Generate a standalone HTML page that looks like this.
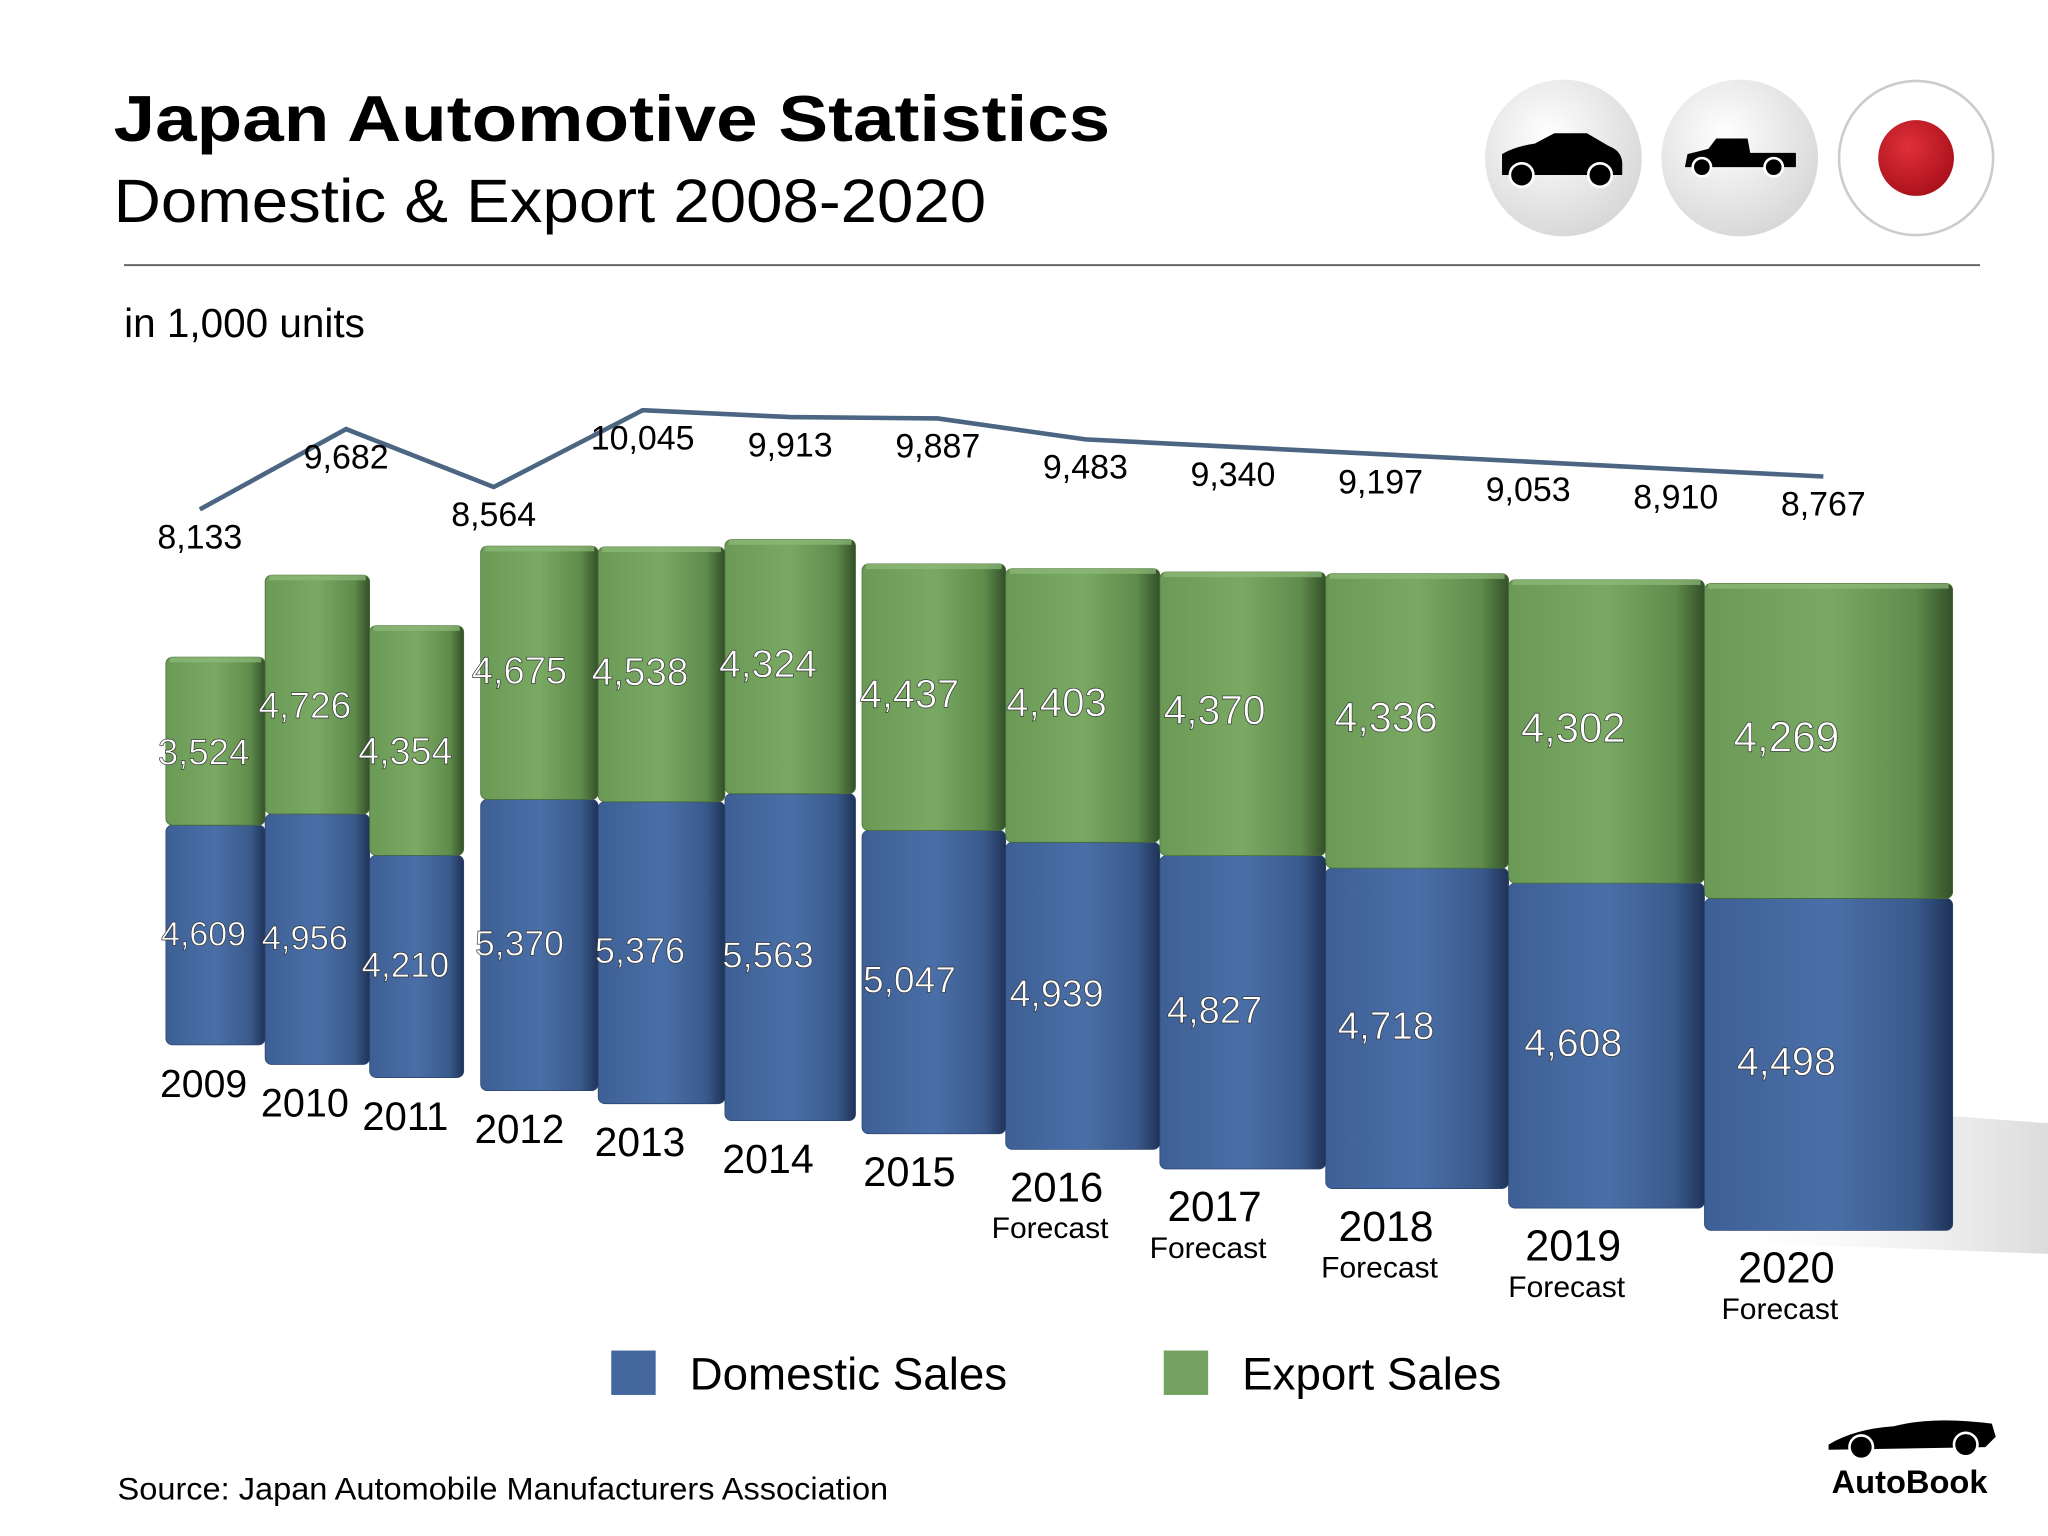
<!DOCTYPE html>
<html><head><meta charset="utf-8"><style>
html,body{margin:0;padding:0;background:#fff;}
svg{display:block;font-family:"Liberation Sans",sans-serif;}
</style></head><body>
<svg id="chart" width="2048" height="1536" viewBox="0 0 1568 1176" xmlns="http://www.w3.org/2000/svg">
<defs>
<linearGradient id="gBlue" x1="0" x2="1" y1="0" y2="0"><stop offset="0" stop-color="#3d5f95"/><stop offset="0.5" stop-color="#4a6fa8"/><stop offset="0.85" stop-color="#3a5a8c"/><stop offset="1" stop-color="#1f3358"/></linearGradient>
<linearGradient id="gGreen" x1="0" x2="1" y1="0" y2="0"><stop offset="0" stop-color="#6a9a55"/><stop offset="0.5" stop-color="#79a963"/><stop offset="0.85" stop-color="#5f8c4b"/><stop offset="1" stop-color="#34502a"/></linearGradient>
<radialGradient id="gIcon" cx="0.4" cy="0.35" r="0.7"><stop offset="0" stop-color="#ffffff"/><stop offset="1" stop-color="#d6d6d6"/></radialGradient>
<radialGradient id="gRed" cx="0.4" cy="0.35" r="0.7"><stop offset="0" stop-color="#e0303a"/><stop offset="1" stop-color="#a8101a"/></radialGradient>
<linearGradient id="gShadow" x1="0" x2="1"><stop offset="0" stop-color="#fff" stop-opacity="0"/><stop offset="1" stop-color="#ccc" stop-opacity="0.7"/></linearGradient>
</defs>
<text x="87" y="108" font-size="50" font-weight="bold" fill="#000" textLength="763" lengthAdjust="spacingAndGlyphs">Japan Automotive Statistics</text>
<text x="87" y="170" font-size="47" fill="#000" textLength="668" lengthAdjust="spacingAndGlyphs">Domestic &amp; Export 2008-2020</text>
<g>
<circle cx="1197" cy="121" r="60" fill="url(#gIcon)"/>
<path d="M1150 130 L1150 118 Q1160 112 1175 110 L1190 102 L1215 102 L1232 112 Q1243 116 1242 128 L1242 134 L1150 134 Z" fill="#000"/>
<circle cx="1165" cy="134" r="9" fill="#000" stroke="#fff" stroke-width="2"/><circle cx="1225" cy="134" r="9" fill="#000" stroke="#fff" stroke-width="2"/>
<circle cx="1332" cy="121" r="60" fill="url(#gIcon)"/>
<path d="M1290 128 L1292 118 L1308 114 L1314 106 L1338 106 L1340 117 L1375 117 L1375 128 Z" fill="#000"/>
<circle cx="1303" cy="128" r="7" fill="#000" stroke="#fff" stroke-width="2"/><circle cx="1358" cy="128" r="7" fill="#000" stroke="#fff" stroke-width="2"/>
<circle cx="1467" cy="121" r="59" fill="#fff" stroke="#ccc" stroke-width="2"/>
<circle cx="1467" cy="121" r="29" fill="url(#gRed)"/>
</g>
<line x1="95" y1="203" x2="1516" y2="203" stroke="#666" stroke-width="1.5"/>
<text x="95" y="258" font-size="31" fill="#000">in 1,000 units</text>
<path d="M1300 840 L1568 860 L1568 960 L1300 950 Z" fill="url(#gShadow)"/>
<g id="bars"></g>
<g id="line"></g>
<g id="labels"></g>
<g>
<rect x="468" y="1034" width="34" height="34" fill="#44689e"/>
<text x="528" y="1064" font-size="35" fill="#000">Domestic Sales</text>
<rect x="891" y="1034" width="34" height="34" fill="#74a260"/>
<text x="951" y="1064" font-size="35" fill="#000">Export Sales</text>
</g>
<text x="90" y="1148" font-size="24" fill="#000" textLength="590" lengthAdjust="spacingAndGlyphs">Source:  Japan Automobile Manufacturers Association</text>
<g>
<path d="M1400 1106 Q1420 1094 1450 1092 Q1480 1084 1525 1090 L1528 1100 L1520 1108 L1400 1110 Z" fill="#000"/>
<circle cx="1425" cy="1108" r="9" fill="#000" stroke="#fff" stroke-width="2"/><circle cx="1505" cy="1106" r="9" fill="#000" stroke="#fff" stroke-width="2"/>
<text x="1462" y="1143" font-size="25" font-weight="bold" text-anchor="middle" fill="#000">AutoBook</text>
</g>
</svg>
<script>
const years = ["2009","2010","2011","2012","2013","2014","2015","2016","2017","2018","2019","2020"];
const forecast = [false,false,false,false,false,false,false,true,true,true,true,true];
const domestic = [4609,4956,4210,5370,5376,5563,5047,4939,4827,4718,4608,4498];
const exportSales = [3524,4726,4354,4675,4538,4324,4437,4403,4370,4336,4302,4269];
const totals = [8133,9682,8564,10045,9913,9887,9483,9340,9197,9053,8910,8767];

// perspective layout (geometry, not data)
const barLeft = [127,203,283,368,458,555,660,770,888,1015,1155,1305];
const barRight = [203,283,355,458,555,655,770,888,1015,1155,1305,1495];
const barBase = [800,815,825,835,845,858,868,880,895,910,925,942];
const barK = [0.0365,0.0387,0.0404,0.0415,0.043,0.045,0.046,0.0476,0.0497,0.052,0.054,0.0565];
const lineX = [153,265,378,492,605,718,831,944,1057,1170,1283,1396];
function yLine(v){ return 390 - (v-8133)*0.0397; }
function hBar(i,v){ return v*barK[i]; }
function fmt(v){ return v.toLocaleString('en-US'); }
const NS="http://www.w3.org/2000/svg";
function mk(tag,attrs,parent){const e=document.createElementNS(NS,tag);for(const k in attrs)e.setAttribute(k,attrs[k]);parent.appendChild(e);return e;}
const gb=document.getElementById('bars'), gl=document.getElementById('line'), gt=document.getElementById('labels');
for(let i=0;i<years.length;i++){
  const x=barLeft[i], w=barRight[i]-barLeft[i], hd=hBar(i,domestic[i]), he=hBar(i,exportSales[i]);
  const yd=barBase[i]-hd, ye=yd-he;
  const b=mk('rect',{x:x,y:yd,width:w,height:hd,rx:5,fill:'url(#gBlue)',stroke:'#2c4570','stroke-width':0.6},gb);
  
  
  const g=mk('rect',{x:x,y:ye,width:w,height:he,rx:5,fill:'url(#gGreen)',stroke:'#4a6e3a','stroke-width':0.6},gb);
  
  
  mk('rect',{x:x+3,y:ye,width:w-6,height:4,fill:'#8fbb7a',opacity:0.7},gb);
  const cx=x+w*(i<3?0.38:0.33), fs=26+i*0.4;
  const td=mk('text',{x:cx,y:yd+hd*0.5+8,'font-size':fs,'text-anchor':'middle',fill:'#fff',stroke:'#333','stroke-width':0.5},gt);
  td.textContent=fmt(domestic[i]);
  
  
  const te=mk('text',{x:cx,y:ye+he*0.5+8+(i<3?10:0),'font-size':fs+2,'text-anchor':'middle',fill:'#fff',stroke:'#333','stroke-width':0.5},gt);
  te.textContent=fmt(exportSales[i]);
  
  
  const ty=mk('text',{x:cx,y:barBase[i]+40,'font-size':30+i*0.3,'text-anchor':'middle',fill:'#000'},gt);
  ty.textContent=years[i];
  
  
  if(forecast[i]){
    const tf=mk('text',{x:cx-5,y:barBase[i]+68,'font-size':23,'text-anchor':'middle',fill:'#000'},gt);
    tf.textContent='Forecast';
    
    
  }
}
let d='';
for(let i=0;i<totals.length;i++){ d+=(i?'L':'M')+lineX[i]+' '+yLine(totals[i]); }
const p=mk('path',{d:d,fill:'none',stroke:'#4b6582','stroke-width':3.5},gl);


for(let i=0;i<totals.length;i++){
  const t=mk('text',{x:lineX[i],y:yLine(totals[i])+30,'font-size':26,'text-anchor':'middle',fill:'#000'},gt);
  t.textContent=fmt(totals[i]);
  
  
}
</script>
</body></html>
